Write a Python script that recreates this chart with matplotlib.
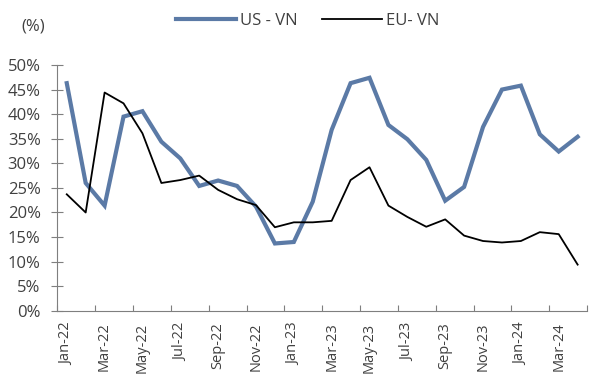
import matplotlib
matplotlib.use("Agg")
import matplotlib.pyplot as plt
import numpy as np

months = ["Jan-22", "Feb-22", "Mar-22", "Apr-22", "May-22", "Jun-22", "Jul-22",
          "Aug-22", "Sep-22", "Oct-22", "Nov-22", "Dec-22", "Jan-23", "Feb-23",
          "Mar-23", "Apr-23", "May-23", "Jun-23", "Jul-23", "Aug-23", "Sep-23",
          "Oct-23", "Nov-23", "Dec-23", "Jan-24", "Feb-24", "Mar-24", "Apr-24"]
us_vn = [46.3, 26.0, 21.4, 39.5, 40.6, 34.4, 31.0, 25.4, 26.5, 25.4, 21.2, 13.7,
         14.0, 22.2, 36.8, 46.3, 47.4, 37.8, 34.9, 30.7, 22.4, 25.2, 37.4, 45.0,
         45.8, 35.9, 32.4, 35.4]
eu_vn = [23.7, 20.0, 44.4, 42.2, 36.1, 26.0, 26.6, 27.5, 24.6, 22.7, 21.5, 17.0,
         18.0, 18.0, 18.3, 26.6, 29.2, 21.4, 19.1, 17.1, 18.6, 15.3, 14.2, 13.9,
         14.2, 16.0, 15.6, 9.4]
yticks = [0, 5, 10, 15, 20, 25, 30, 35, 40, 45, 50]

plt.rcParams['font.family'] = ['Open Sans', 'DejaVu Sans']
text_color = '#404040'
axis_color = '#7f7f7f'
fs = 12

fig = plt.figure(figsize=(6, 3.8), dpi=100)
ax = fig.add_axes([0.0955, 0.182, 0.883, 0.647])

x = np.arange(len(months))
ax.plot(x, us_vn, color='#5b7aa6', lw=3.0, label='US - VN', solid_joinstyle='miter')
ax.plot(x, eu_vn, color='black', lw=1.3, label='EU- VN')

ax.set_xlim(-0.5, len(months) - 0.5)
ax.set_ylim(0, 50)
ax.set_yticks(yticks)
ax.set_yticklabels([f"{v}%" for v in yticks])

ax.set_xticks(x[::2])
ax.set_xticklabels(months[::2], rotation=90)
ax.set_xticks(np.arange(-0.5, len(months), 2), minor=True)
ax.tick_params(axis='x', which='major', length=0, pad=8.5, labelsize=10.5, labelcolor=text_color)
ax.tick_params(axis='x', which='minor', direction='in', length=4.5, color=axis_color, width=0.8)
ax.tick_params(axis='y', direction='inout', length=8, color=axis_color, width=0.8,
               labelsize=fs, labelcolor=text_color, pad=8)

for s in ['top', 'right']:
    ax.spines[s].set_visible(False)
for s in ['left', 'bottom']:
    ax.spines[s].set_color(axis_color)
    ax.spines[s].set_linewidth(0.8)

fig.text(0.035, 0.93, '(%)', fontsize=fs, color=text_color, va='center', ha='left')
leg = fig.legend(loc='center', bbox_to_anchor=(0.513, 0.945), ncol=2, frameon=False,
                 fontsize=fs, handlelength=3.6, handletextpad=0.2, columnspacing=1.5)
for t in leg.get_texts():
    t.set_color(text_color)

fig.savefig('out.png', dpi=100)
